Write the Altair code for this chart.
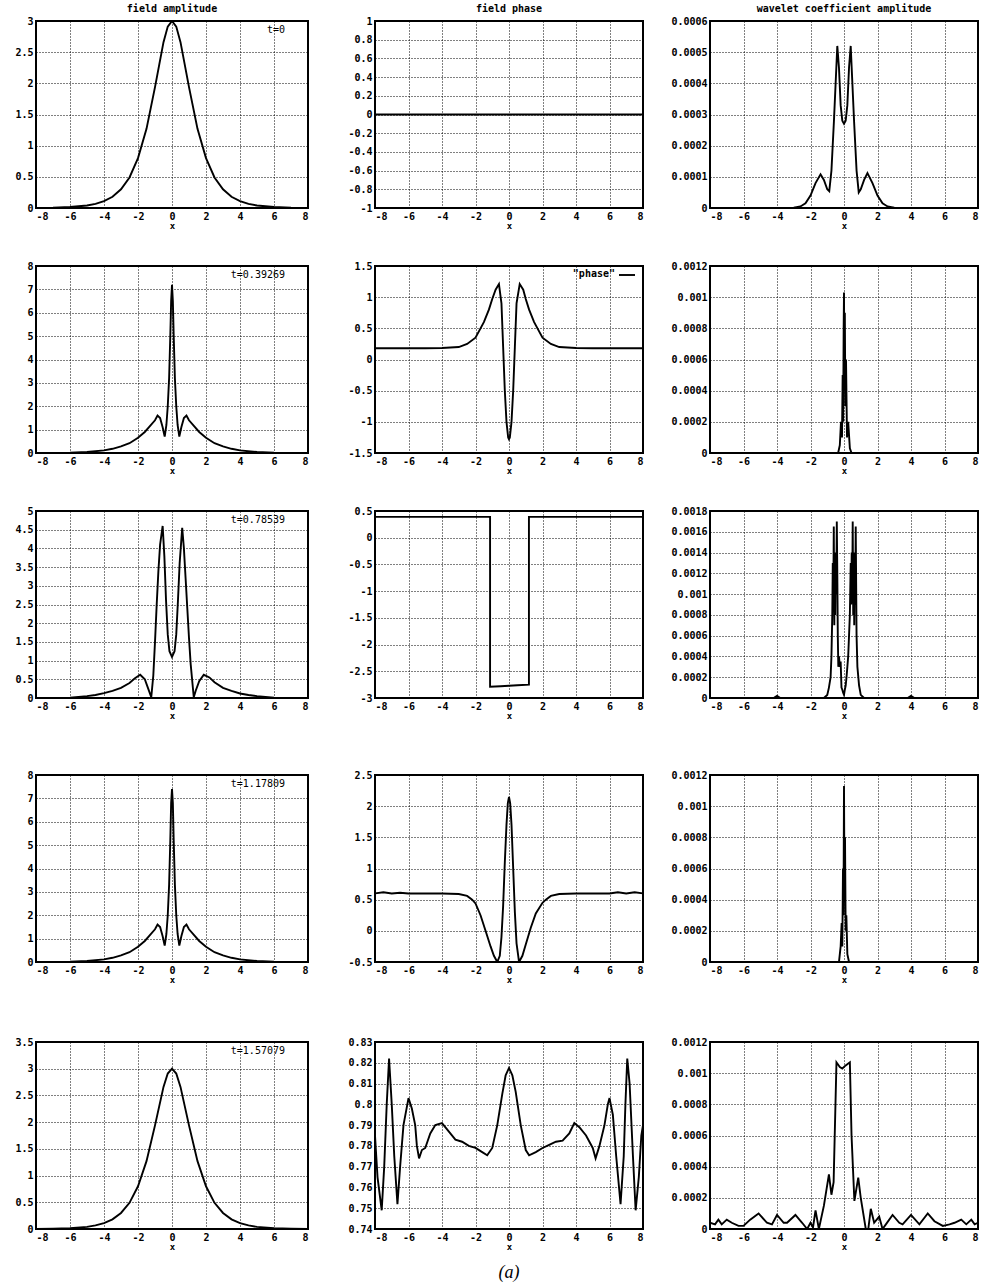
import altair as alt
import pandas as pd

# ---------------- data ----------------
X_TICKS = [-8, -6, -4, -2, 0, 2, 4, 6, 8]

# column titles and time labels
COL_TITLES = ["field amplitude", "field phase", "wavelet coefficient amplitude"]
TIME_LABELS = ["t=0", "t=0.39269", "t=0.78539", "t=1.17809", "t=1.57079"]

# y tick values per panel
amp_ticks_1 = [0, 0.5, 1, 1.5, 2, 2.5, 3]
amp_ticks_2 = [0, 1, 2, 3, 4, 5, 6, 7, 8]
amp_ticks_3 = [0, 0.5, 1, 1.5, 2, 2.5, 3, 3.5, 4, 4.5, 5]
amp_ticks_4 = [0, 1, 2, 3, 4, 5, 6, 7, 8]
amp_ticks_5 = [0, 0.5, 1, 1.5, 2, 2.5, 3, 3.5]
ph_ticks_1 = [-1, -0.8, -0.6, -0.4, -0.2, 0, 0.2, 0.4, 0.6, 0.8, 1]
ph_ticks_2 = [-1.5, -1, -0.5, 0, 0.5, 1, 1.5]
ph_ticks_3 = [-3, -2.5, -2, -1.5, -1, -0.5, 0, 0.5]
ph_ticks_4 = [-0.5, 0, 0.5, 1, 1.5, 2, 2.5]
ph_ticks_5 = [0.74, 0.75, 0.76, 0.77, 0.78, 0.79, 0.8, 0.81, 0.82, 0.83]
wv_ticks_1 = [0, 0.0001, 0.0002, 0.0003, 0.0004, 0.0005, 0.0006]
wv_ticks_2 = [0, 0.0002, 0.0004, 0.0006, 0.0008, 0.001, 0.0012]
wv_ticks_3 = [0, 0.0002, 0.0004, 0.0006, 0.0008, 0.001, 0.0012, 0.0014, 0.0016, 0.0018]
wv_ticks_4 = [0, 0.0002, 0.0004, 0.0006, 0.0008, 0.001, 0.0012]
wv_ticks_5 = [0, 0.0002, 0.0004, 0.0006, 0.0008, 0.001, 0.0012]

# ---- row 1 (t=0) ----
amp1_x = [-8, -7, -6, -5, -4.5, -4, -3.5, -3, -2.5, -2, -1.5, -1, -0.75, -0.5, -0.25, 0,
          0.25, 0.5, 0.75, 1, 1.5, 2, 2.5, 3, 3.5, 4, 4.5, 5, 6, 7, 8]
amp1_y = [0.002, 0.005, 0.015, 0.04, 0.067, 0.11, 0.18, 0.30, 0.49, 0.80, 1.27, 1.94, 2.30, 2.66, 2.91, 3.0,
          2.91, 2.66, 2.30, 1.94, 1.27, 0.80, 0.49, 0.30, 0.18, 0.11, 0.067, 0.04, 0.015, 0.005, 0.002]
ph1_x = [-8, 8]
ph1_y = [0, 0]
wv1_x = [-8, -4, -3, -2.6, -2.3, -2.0, -1.7, -1.4, -1.2, -1.0,
         -0.88, -0.75, -0.6, -0.5, -0.4, -0.3, -0.2, -0.1, 0,
         0.1, 0.2, 0.3, 0.4, 0.5, 0.6, 0.75, 0.88, 1.0,
         1.2, 1.4, 1.7, 2.0, 2.3, 2.6, 3, 4, 8]
wv1_y = [0, 0, 0.000001, 0.000005, 0.000015, 0.00004, 0.00008, 0.000108, 0.00009, 0.00006,
         0.000054, 0.00012, 0.00028, 0.0004, 0.00052, 0.00045, 0.00033, 0.00028, 0.00027,
         0.00028, 0.00033, 0.00045, 0.00052, 0.0004, 0.00028, 0.00012, 0.00005, 0.00006,
         0.00009, 0.000112, 0.00008, 0.00004, 0.000015, 0.000005, 0.000001, 0, 0]

# ---- row 2 (t=0.39269) ----
amp2_x = [-8, -6, -5, -4, -3.5, -3, -2.5, -2, -1.6, -1.3,
          -1.0, -0.85, -0.7, -0.55, -0.43, -0.33, -0.25, -0.17, -0.1, -0.05,
          0,
          0.05, 0.1, 0.17, 0.25, 0.33, 0.43, 0.55, 0.7, 0.85, 1.0,
          1.3, 1.6, 2, 2.5, 3, 3.5, 4, 5, 6, 8]
amp2_y = [0, 0.01, 0.04, 0.11, 0.18, 0.28, 0.42, 0.65, 0.9, 1.15,
          1.4, 1.6, 1.5, 1.1, 0.7, 1.2, 2.0, 3.2, 5.0, 6.5,
          7.2,
          6.5, 5.0, 3.2, 2.0, 1.2, 0.7, 1.1, 1.5, 1.6, 1.4,
          1.15, 0.9, 0.65, 0.42, 0.28, 0.18, 0.11, 0.04, 0.01, 0]
ph2_x = [-8, -5, -4, -3, -2.5, -2, -1.5, -1.2, -1.0, -0.8,
         -0.6, -0.45, -0.35, -0.25, -0.15, -0.05, 0,
         0.05, 0.15, 0.25, 0.35, 0.45, 0.64,
         0.85, 1.0, 1.2, 1.5, 2, 2.5, 3, 4, 5, 8]
ph2_y = [0.18, 0.18, 0.185, 0.2, 0.25, 0.35, 0.6, 0.8, 0.97, 1.12,
         1.21, 0.9, 0.2, -0.5, -1.0, -1.25, -1.28,
         -1.25, -1.0, -0.5, 0.2, 0.9, 1.21,
         1.12, 0.97, 0.8, 0.6, 0.35, 0.25, 0.2, 0.185, 0.18, 0.18]
wv2_x = [-8, -3, -1, -0.35, -0.25, -0.18, -0.12, -0.08, -0.05, -0.02, 0.0,
         0.02, 0.05, 0.08, 0.12, 0.18, 0.25, 0.35, 0.45, 1, 3, 8]
wv2_y = [0, 0, 0, 0, 0.00005, 0.0002, 0.0001, 0.0005, 0.0002, 0.0008, 0.00103,
         0.0005, 0.0009, 0.0003, 0.0006, 0.0001, 0.0002, 0.00003, 0, 0, 0, 0]

# ---- row 3 (t=0.78539) ----
amp3_x = [-8, -6, -5, -4.5, -4, -3.5, -3, -2.5, -2.2, -1.87, -1.6, -1.4, -1.22,
          -1.1, -1.0, -0.9, -0.8, -0.7, -0.55, -0.45, -0.35, -0.25, -0.15, 0,
          0.15, 0.25, 0.35, 0.45, 0.6, 0.7, 0.8, 0.9, 1.0, 1.1, 1.28,
          1.4, 1.6, 1.87, 2.2, 2.5, 3, 3.5, 4, 4.5, 5, 6, 8]
amp3_y = [0, 0.01, 0.05, 0.08, 0.13, 0.19, 0.27, 0.4, 0.52, 0.62, 0.5, 0.25, 0.02,
          0.6, 1.5, 2.5, 3.4, 4.1, 4.6, 3.8, 2.6, 1.7, 1.25, 1.1,
          1.25, 1.7, 2.6, 3.6, 4.55, 4.0, 3.2, 2.4, 1.6, 0.9, 0.02,
          0.2, 0.45, 0.62, 0.55, 0.42, 0.27, 0.19, 0.12, 0.08, 0.05, 0.01, 0]
ph3_x = [-8, -4, -1.13, -1.13, -0.5, 0, 0.5, 1.19, 1.19, 4, 8]
ph3_y = [0.39, 0.39, 0.39, -2.79, -2.78, -2.77, -2.76, -2.75, 0.39, 0.39, 0.39]
wv3_x = [-8, -5, -4.2, -4, -3.8, -3, -1.2, -1.0, -0.9, -0.8,
         -0.75, -0.7, -0.67, -0.64, -0.61, -0.58, -0.55, -0.52, -0.49, -0.46,
         -0.43, -0.4, -0.37, -0.34, -0.3, -0.25, -0.2, -0.15, -0.1, -0.05,
         0, 0.05, 0.1, 0.15, 0.2, 0.25, 0.3, 0.35, 0.4, 0.43,
         0.46, 0.49, 0.52, 0.55, 0.58, 0.61, 0.64, 0.67, 0.7, 0.75,
         0.8, 0.9, 1.0, 1.2, 3, 3.8, 4, 4.2, 5, 8]
wv3_y = [0, 0, 0, 0.00002, 0, 0, 0, 0.00003, 0.0001, 0.0002,
         0.0004, 0.0008, 0.0013, 0.0009, 0.00165, 0.0007, 0.0013, 0.0008, 0.0014, 0.001,
         0.0017, 0.0012, 0.0006, 0.0003, 0.0004, 0.0003, 0.00035, 0.0001, 0.00008, 0.00005,
         0.00003, 0.00008, 0.00012, 0.0002, 0.0003, 0.0004, 0.0006, 0.0008, 0.0013, 0.0009,
         0.0014, 0.001, 0.0017, 0.0008, 0.0013, 0.0007, 0.0014, 0.0009, 0.00165, 0.0006,
         0.0003, 0.00012, 0.00003, 0, 0, 0, 0.00002, 0, 0, 0]

# ---- row 4 (t=1.17809) ----
amp4_x = [-8, -6, -5, -4, -3.5, -3, -2.5, -2, -1.6, -1.3,
          -1.0, -0.85, -0.7, -0.55, -0.43, -0.33, -0.25, -0.17, -0.1, -0.05,
          0,
          0.05, 0.1, 0.17, 0.25, 0.33, 0.43, 0.55, 0.7, 0.85, 1.0,
          1.3, 1.6, 2, 2.5, 3, 3.5, 4, 5, 6, 8]
amp4_y = [0, 0.01, 0.04, 0.11, 0.18, 0.28, 0.42, 0.65, 0.9, 1.15,
          1.4, 1.6, 1.5, 1.1, 0.7, 1.2, 2.0, 3.3, 5.2, 6.8,
          7.4,
          6.8, 5.2, 3.3, 2.0, 1.2, 0.7, 1.1, 1.5, 1.6, 1.4,
          1.15, 0.9, 0.65, 0.42, 0.28, 0.18, 0.11, 0.04, 0.01, 0]
ph4_x = [-8, -7.5, -7, -6.5, -6, -5, -4, -3, -2.5, -2.2,
         -2, -1.7, -1.4, -1.1, -0.9, -0.7, -0.55, -0.45, -0.35, -0.25,
         -0.15, -0.07, 0, 0.07, 0.15, 0.25, 0.35, 0.45, 0.6, 0.8,
         1.0, 1.3, 1.6, 2, 2.2, 2.5, 3, 4, 5, 6,
         6.5, 7, 7.5, 8]
ph4_y = [0.6, 0.62, 0.6, 0.61, 0.6, 0.6, 0.6, 0.59, 0.56, 0.5,
         0.44, 0.25, 0.0, -0.25, -0.4, -0.5, -0.4, -0.1, 0.4, 1.1,
         1.7, 2.05, 2.15, 2.05, 1.7, 1.0, 0.3, -0.2, -0.5, -0.4,
         -0.22, 0.05, 0.28, 0.45, 0.5, 0.56, 0.59, 0.6, 0.6, 0.6,
         0.62, 0.6, 0.62, 0.6]
wv4_x = [-8, -3, -1, -0.3, -0.2, -0.14, -0.1, -0.06, -0.03, 0,
         0.03, 0.06, 0.1, 0.14, 0.2, 0.3, 1, 3, 8]
wv4_y = [0, 0, 0, 0, 0.0001, 0.00025, 0.0001, 0.0006, 0.0003, 0.00113,
         0.0004, 0.0008, 0.0002, 0.0003, 0.00005, 0, 0, 0, 0]

# ---- row 5 (t=1.57079) ----
amp5_x = [-8, -7, -6, -5, -4.5, -4, -3.5, -3, -2.5, -2, -1.5, -1, -0.75, -0.5, -0.25, 0,
          0.25, 0.5, 0.75, 1, 1.5, 2, 2.5, 3, 3.5, 4, 4.5, 5, 6, 7, 8]
amp5_y = [0.002, 0.005, 0.015, 0.04, 0.067, 0.11, 0.18, 0.30, 0.49, 0.80, 1.27, 1.94, 2.30, 2.66, 2.91, 3.0,
          2.91, 2.66, 2.30, 1.94, 1.27, 0.80, 0.49, 0.30, 0.18, 0.11, 0.067, 0.04, 0.015, 0.005, 0.002]
ph5_x = [-8, -7.85, -7.6, -7.45, -7.3, -7.16, -7.0, -6.85, -6.66, -6.5,
         -6.3, -6.0, -5.8, -5.6, -5.5, -5.37, -5.2, -5.0, -4.7, -4.4,
         -4.0, -3.6, -3.2, -2.8, -2.4, -2.0, -1.6, -1.3, -1.0, -0.7,
         -0.4, -0.2, 0,
         0.2, 0.4, 0.7, 1.0, 1.2, 1.6, 2.0, 2.4, 2.8, 3.2,
         3.6, 3.9, 4.2, 4.6, 5.0, 5.17, 5.4, 5.7, 5.9, 6.0,
         6.2, 6.4, 6.66, 6.85, 6.95, 7.06, 7.2, 7.4, 7.56, 7.75,
         7.9, 8.0]
ph5_y = [0.785, 0.765, 0.749, 0.77, 0.80, 0.822, 0.80, 0.775, 0.752, 0.77,
         0.79, 0.803, 0.798, 0.79, 0.78, 0.774, 0.778, 0.779, 0.786, 0.79,
         0.791, 0.787, 0.783, 0.782, 0.780, 0.779, 0.777, 0.7755, 0.779, 0.79,
         0.805, 0.814, 0.8175,
         0.814, 0.806, 0.79, 0.778, 0.7755, 0.777, 0.779, 0.7805, 0.782, 0.7825,
         0.786, 0.791, 0.789, 0.785, 0.779, 0.774, 0.78, 0.79, 0.80, 0.803,
         0.795, 0.775, 0.752, 0.775, 0.80, 0.822, 0.81, 0.775, 0.749, 0.765,
         0.785, 0.79]
wv5_x = [-8, -7.7, -7.5, -7.3, -7.0, -6.7, -6.3, -6.0, -5.6, -5.1,
         -4.6, -4.3, -4.0, -3.6, -3.4, -2.9, -2.5, -2.2, -2.0, -1.85,
         -1.7, -1.5, -1.2, -0.9, -0.75, -0.62, -0.45, -0.25, -0.1, 0.1,
         0.35, 0.45, 0.62, 0.85, 1.0, 1.3, 1.45, 1.6, 1.8, 2.1,
         2.3, 2.5, 2.9, 3.3, 3.5, 4.0, 4.5, 5.0, 5.4, 5.9,
         6.3, 6.6, 7.0, 7.3, 7.6, 7.8, 8.0]
wv5_y = [0.00004, 0.00003, 0.00006, 0.00003, 0.00006, 0.00004, 0.00002, 0.00002, 0.00006, 0.0001,
         0.00004, 0.00003, 0.00009, 0.00004, 0.00004, 0.00009, 0.00004, 0.0, 0.00004, 0.00001,
         0.00012, 0.0, 0.00015, 0.00035, 0.00022, 0.0003, 0.00107, 0.00104, 0.00103, 0.00105,
         0.00107, 0.0006, 0.00018, 0.00033, 0.0002, 0.0, 0.0, 0.00013, 0.00004, 0.00008,
         0.0, 0.00003, 0.00009, 0.00004, 0.00003, 0.00009, 0.00003, 0.0001, 0.00005, 0.00002,
         0.00003, 0.00004, 0.00006, 0.00003, 0.00006, 0.00003, 0.00004]

# ---------------- chart ----------------
MONO = "DejaVu Sans Mono"
COL_W = [272, 268, 268]
COL_EXT = [30, 45, 45]   # fixed y-axis extents so the columns line up
ROW_H = 187
LABEL_EXPR = "replace(format(datum.value, '.6~g'), '\u2212', '-')"


def panel(xs, ys, yticks, col, title=None, note=None, legend=None, caption=None):
    width = COL_W[col]
    ext = COL_EXT[col]
    df = pd.DataFrame({"x": xs, "y": ys})
    df["i"] = list(range(len(df)))
    line = alt.Chart(df).mark_line(color="black", strokeWidth=1.9, clip=True).encode(
        x=alt.X("x:Q", scale=alt.Scale(domain=[-8, 8], nice=False, zero=False),
                axis=alt.Axis(values=X_TICKS, labelExpr=LABEL_EXPR, title="x")),
        y=alt.Y("y:Q", scale=alt.Scale(domain=[yticks[0], yticks[-1]], nice=False, zero=False),
                axis=alt.Axis(values=yticks, labelExpr=LABEL_EXPR, title=None,
                              minExtent=ext, maxExtent=ext)),
        order="i:Q",
    )
    layers = [line]
    if note:
        layers.append(
            alt.Chart(pd.DataFrame({"t": [note]})).mark_text(
                font=MONO, fontSize=10, align="right", baseline="top", color="black"
            ).encode(text="t:N", x=alt.value(width - 23), y=alt.value(4))
        )
    if legend:
        layers.append(
            alt.Chart(pd.DataFrame({"t": [legend]})).mark_text(
                font=MONO, fontSize=10, fontWeight="bold", align="right", baseline="top", color="black"
            ).encode(text="t:N", x=alt.value(width - 28), y=alt.value(3))
        )
        layers.append(
            alt.Chart(pd.DataFrame({"t": [legend]})).mark_rule(color="black", strokeWidth=1.9).encode(
                x=alt.value(width - 24), x2=alt.value(width - 8), y=alt.value(9)
            )
        )
    ch = alt.layer(*layers).properties(width=width, height=ROW_H)
    if title:
        ch = ch.properties(title=alt.TitleParams(title, font=MONO, fontSize=10, fontWeight="bold",
                                                 offset=2, color="black"))
    if caption:
        ch = ch.properties(title=alt.TitleParams(caption, orient="bottom", font="Liberation Serif",
                                                 fontSize=18, fontStyle="italic", fontWeight="normal",
                                                 offset=13, color="black"))
    return ch


def row(cells):
    return alt.hconcat(*cells, spacing=20)


r1 = row([
    panel(amp1_x, amp1_y, amp_ticks_1, 0, title=COL_TITLES[0], note=TIME_LABELS[0]),
    panel(ph1_x, ph1_y, ph_ticks_1, 1, title=COL_TITLES[1]),
    panel(wv1_x, wv1_y, wv_ticks_1, 2, title=COL_TITLES[2]),
])
r2 = row([
    panel(amp2_x, amp2_y, amp_ticks_2, 0, note=TIME_LABELS[1]),
    panel(ph2_x, ph2_y, ph_ticks_2, 1, legend='"phase"'),
    panel(wv2_x, wv2_y, wv_ticks_2, 2),
])
r3 = row([
    panel(amp3_x, amp3_y, amp_ticks_3, 0, note=TIME_LABELS[2]),
    panel(ph3_x, ph3_y, ph_ticks_3, 1),
    panel(wv3_x, wv3_y, wv_ticks_3, 2),
])
r4 = row([
    panel(amp4_x, amp4_y, amp_ticks_4, 0, note=TIME_LABELS[3]),
    panel(ph4_x, ph4_y, ph_ticks_4, 1),
    panel(wv4_x, wv4_y, wv_ticks_4, 2),
])
r5 = row([
    panel(amp5_x, amp5_y, amp_ticks_5, 0, note=TIME_LABELS[4]),
    panel(ph5_x, ph5_y, ph_ticks_5, 1, caption="(a)"),
    panel(wv5_x, wv5_y, wv_ticks_5, 2),
])

top = alt.vconcat(r1, r2, r3, spacing=29)
bottom = alt.vconcat(r4, r5, spacing=51)

chart = alt.vconcat(top, bottom, spacing=48).properties(
    padding={"left": 5, "top": 3, "right": 5, "bottom": 5},
    background="white",
).configure_view(
    stroke="black", strokeWidth=2
).configure_axis(
    labelFont=MONO, labelFontSize=10, labelFontWeight="bold", labelColor="black",
    labelPadding=3, domain=False, ticks=False,
    grid=True, gridColor="black", gridDash=[1, 2], gridWidth=1, gridOpacity=1,
    titleFont=MONO, titleFontSize=9, titleFontWeight="bold", titleColor="black", titlePadding=0,
)

chart.save("out.html", embed_options={"renderer": "svg", "actions": False})
